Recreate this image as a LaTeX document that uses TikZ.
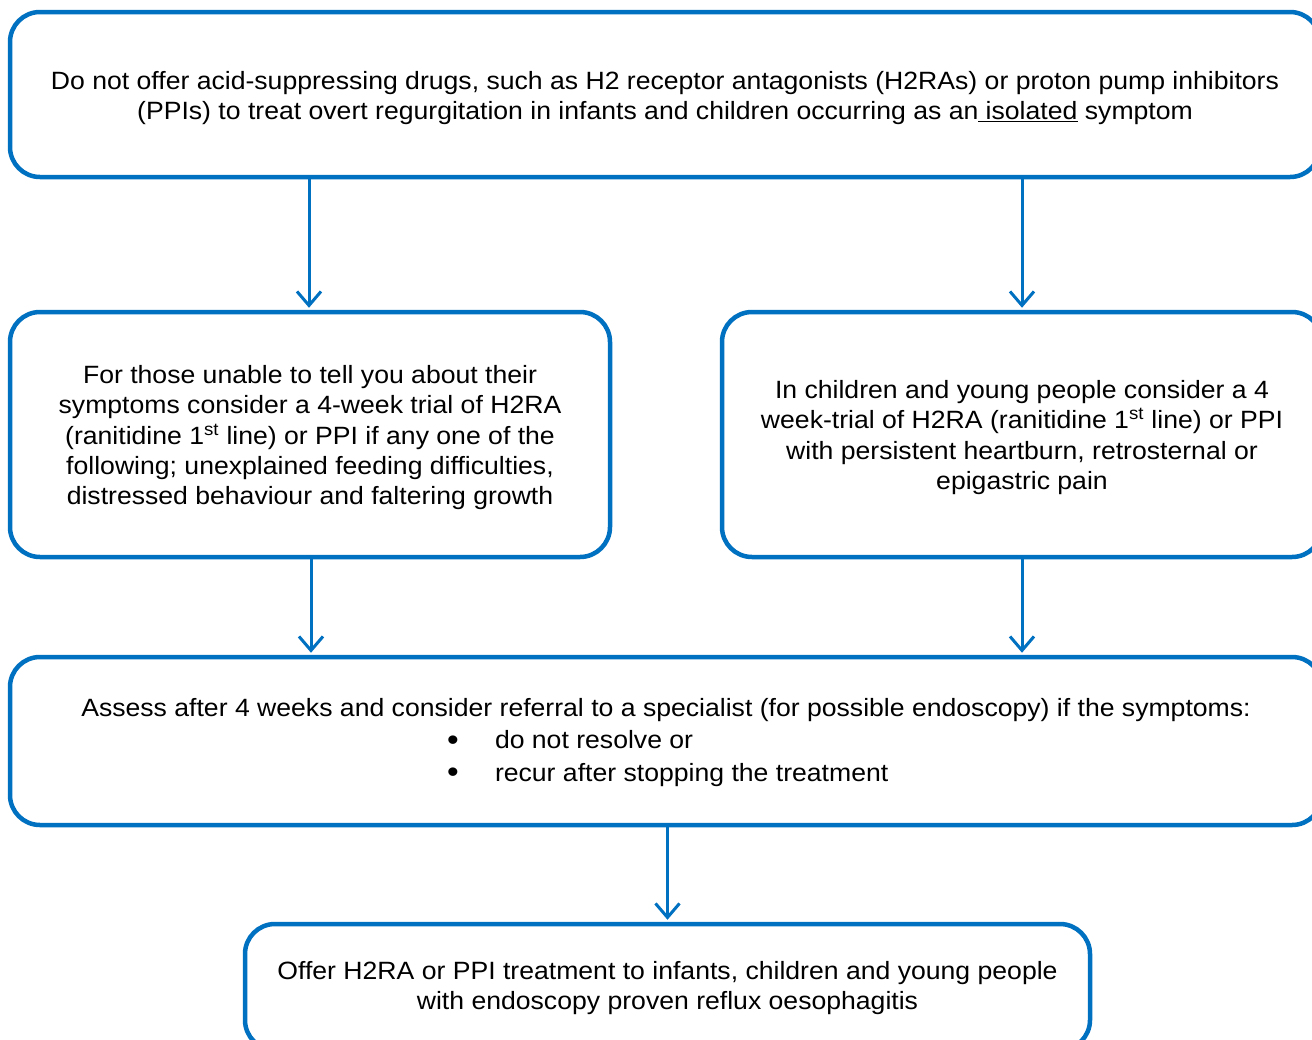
\documentclass[tikz,border=0pt]{standalone}
\usepackage{fontspec}
\setmainfont{Liberation Sans}[FakeStretch=1.064]
\usetikzlibrary{arrows.meta}
\definecolor{nblue}{HTML}{0070C0}
\tikzset{
  box/.style={draw=nblue, line width=4.5pt, rounded corners=30pt, inner sep=0pt, align=center,
    font=\fontsize{25}{30.4}\selectfont, anchor=center},
  arr/.style={draw=nblue, line width=3pt, -{Straight Barb[length=14pt,width=24pt,line width=3pt]}}
}
\newcommand{\stsup}{\textsuperscript{st}}
\newcommand{\bigbul}{\makebox[12pt]{\raisebox{-1.5pt}{\scalebox{1.25}{\textbullet}}}}
\newcommand{\toph}[1]{\rule{0pt}{#1pt}}
\newcommand{\botd}{\rule[-10pt]{0pt}{10pt}}
\begin{document}
\begin{tikzpicture}[x=1pt,y=-1pt]
\useasboundingbox (0,0) rectangle (1312,1039);
\clip (0,0) rectangle (1312,1039);
\fill[white] (0,0) rectangle (1312,1039);
\node[box, minimum width=1310pt, minimum height=165pt] (top) at (665,94.5)
  {\toph{30.0}Do not offer acid-suppressing drugs, such as H2 receptor antagonists (H2RAs) or proton pump inhibitors\\
   (PPIs) to treat overt regurgitation in infants and children occurring as an\underline{\ isolated} symptom\botd};
\node[box, minimum width=600pt, minimum height=245pt] (b2) at (310,434.5)
  {\toph{29.2}For those unable to tell you about their\\
   symptoms consider a 4-week trial of H2RA\\
   (ranitidine 1\stsup\ line) or PPI if any one of the\\
   following; unexplained feeding difficulties,\\
   distressed behaviour and faltering growth\botd};
\node[box, minimum width=600pt, minimum height=245pt] (b3) at (1022,434.5)
  {\toph{28.8}In children and young people consider a 4\\
   week-trial of H2RA (ranitidine 1\stsup\ line) or PPI\\
   with persistent heartburn, retrosternal or\\
   epigastric pain\botd};
\node[box, minimum width=1312pt, minimum height=168pt] (b4) at (666,741)
  {\toph{25.8}Assess after 4 weeks and consider referral to a specialist (for possible endoscopy) if the symptoms:\\[1.8pt]
   \makebox[500pt][l]{\hspace*{31pt}\bigbul\hspace*{36pt}do not resolve or}\\[1.8pt]
   \makebox[500pt][l]{\hspace*{31pt}\bigbul\hspace*{36pt}recur after stopping the treatment}\botd};
\node[box, minimum width=845pt, minimum height=126pt] (b5) at (667.5,987)
  {\toph{24.4}Offer H2RA or PPI treatment to infants, children and young people\\
   with endoscopy proven reflux oesophagitis\botd};
\draw[arr] (top.south -| 309,0) -- ([yshift=2pt]b2.north -| 309,0);
\draw[arr] (top.south -| b3.north) -- ([yshift=2pt]b3.north);
\draw[arr] (b2.south -| 311,0) -- ([yshift=2pt]b4.north -| 311,0);
\draw[arr] (b3.south) -- ([yshift=2pt]b4.north -| b3.south);
\draw[arr] (b4.south -| b5.north) -- ([yshift=2pt]b5.north);
\end{tikzpicture}
\end{document}
